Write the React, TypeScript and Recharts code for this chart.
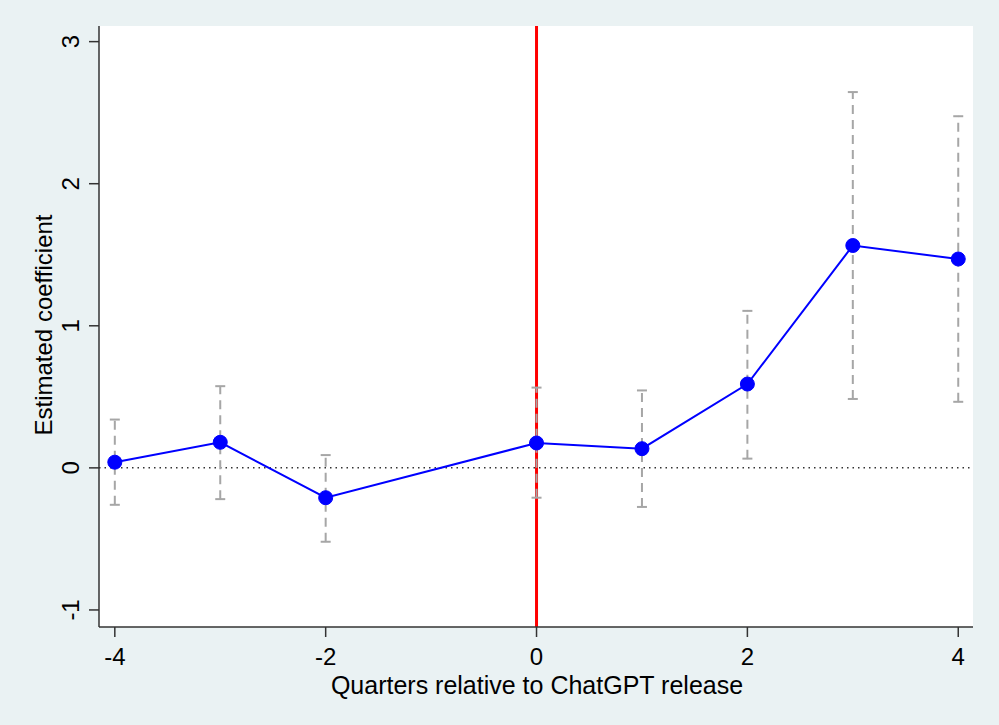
import React from "react";
import {
  CartesianGrid,
  ErrorBar,
  Line,
  LineChart,
  ReferenceLine,
  Scatter,
  XAxis,
  YAxis,
} from "recharts";

// event-study estimates, quarters relative to the release
const quarters = [-4, -3, -2, 0, 1, 2, 3, 4];
const coefs = [0.04, 0.18, -0.21, 0.175, 0.135, 0.59, 1.565, 1.47];
const ciLow = [-0.26, -0.22, -0.52, -0.21, -0.275, 0.065, 0.485, 0.465];
const ciHigh = [0.34, 0.575, 0.09, 0.565, 0.545, 1.105, 2.645, 2.475];

const xTicks = [-4, -2, 0, 2, 4];
const yTicks = [-1, 0, 1, 2, 3];

const data = quarters.map((q, i) => ({
  q,
  coef: coefs[i],
  lo: ciLow[i],
  hi: ciHigh[i],
  err: [coefs[i] - ciLow[i], ciHigh[i] - coefs[i]],
}));

const loPoints = data.map((d) => ({ q: d.q, v: d.lo }));
const hiPoints = data.map((d) => ({ q: d.q, v: d.hi }));

const BG = "#EAF2F3";
const FONT = "'Liberation Sans', Arial, sans-serif";

function Cap(props: any) {
  const { cx, cy } = props;
  if (cx == null || cy == null) return null;
  return <line x1={cx - 5} x2={cx + 5} y1={cy} y2={cy} stroke="#A6A6A6" strokeWidth={2} />;
}

function YTick(props: any) {
  const { y, payload } = props;
  return (
    <text
      x={79}
      y={y}
      transform={`rotate(-90 79 ${y})`}
      textAnchor="middle"
      fontSize={24}
      fontFamily={FONT}
      fill="#000"
    >
      {payload.value}
    </text>
  );
}

function XTick(props: any) {
  const { x, payload } = props;
  return (
    <text x={x} y={665} textAnchor="middle" fontSize={24} fontFamily={FONT} fill="#000">
      {payload.value}
    </text>
  );
}

export default function App() {
  return (
    <div style={{ position: "absolute", left: 0, top: 0, width: 999, height: 725, background: BG }}>
      <LineChart width={999} height={725} margin={{ top: 26, right: 26, bottom: 0, left: 0 }}>
        <rect x={99} y={26} width={874} height={601} fill="#fff" />
        <CartesianGrid horizontal vertical={false} stroke={BG} strokeWidth={2} />
        <XAxis
          type="number"
          dataKey="q"
          domain={[-4.15, 4.14]}
          ticks={xTicks}
          allowDataOverflow
          height={98}
          stroke="#333"
          strokeWidth={1.5}
          tickSize={10}
          tick={<XTick />}
        />
        <YAxis
          type="number"
          domain={[-1.12, 3.11]}
          ticks={yTicks}
          allowDataOverflow
          width={99}
          stroke="#333"
          strokeWidth={1.5}
          tickSize={10}
          tick={<YTick />}
        />
        <text x={537} y={694} textAnchor="middle" fontSize={25} fontFamily={FONT} fill="#000">
          Quarters relative to ChatGPT release
        </text>
        <text
          x={52}
          y={325}
          transform="rotate(-90 52 325)"
          textAnchor="middle"
          fontSize={24}
          fontFamily={FONT}
          fill="#000"
        >
          Estimated coefficient
        </text>
        <ReferenceLine y={0} stroke="#333" strokeWidth={1.5} strokeDasharray="1.5 4" />
        <ReferenceLine x={0} stroke="#FF0000" strokeWidth={3} />
        <Scatter data={data} dataKey="coef" shape={() => null} isAnimationActive={false}>
          <ErrorBar dataKey="err" width={0} stroke="#A6A6A6" strokeWidth={2} strokeDasharray="9 6" direction="y" />
        </Scatter>
        <Scatter data={loPoints} dataKey="v" shape={<Cap />} isAnimationActive={false} />
        <Scatter data={hiPoints} dataKey="v" shape={<Cap />} isAnimationActive={false} />
        <Line
          data={data}
          dataKey="coef"
          stroke="#0000FF"
          strokeWidth={2}
          dot={{ r: 7, fill: "#0000FF", stroke: "#0000FF", strokeWidth: 1 }}
          isAnimationActive={false}
        />
      </LineChart>
    </div>
  );
}
